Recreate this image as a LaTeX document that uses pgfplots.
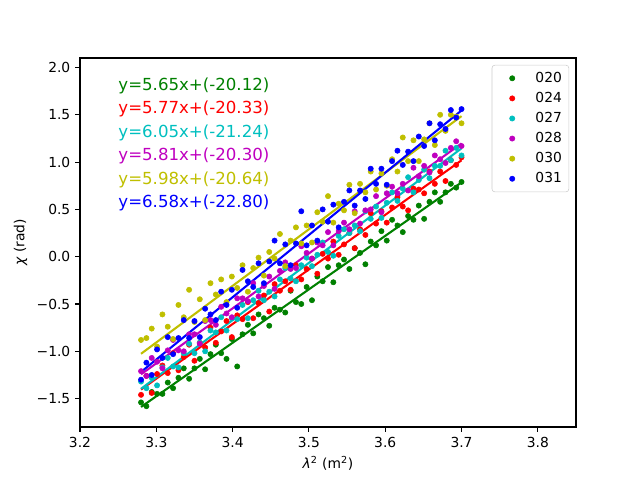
\documentclass[border=0pt]{standalone}
\usepackage{pgfplots}
\usepackage{pgfplotstable}
\usepackage{fontspec}
\setmainfont{DejaVu Sans}
\pgfplotsset{compat=1.18}
\definecolor{mg}{rgb}{0,0.5,0}
\definecolor{mr}{rgb}{1,0,0}
\definecolor{mc}{rgb}{0,0.75,0.75}
\definecolor{mm}{rgb}{0.75,0,0.75}
\definecolor{my}{rgb}{0.75,0.75,0}
\definecolor{mb}{rgb}{0,0,1}
\pgfplotstableread{
x g r c m y b
3.280 -1.54 -1.46 -1.32 -1.21 -0.88 -1.30
3.287 -1.58 -1.26 -1.39 -1.26 -0.86 -1.12
3.294 -1.43 -1.44 -1.28 -1.07 -0.76 -1.25
3.301 -1.45 -1.24 -1.36 -1.11 -0.95 -0.98
3.308 -1.45 -1.15 -1.17 -1.18 -0.61 -1.07
3.315 -1.33 -1.23 -1.07 -0.99 -0.74 -0.85
3.322 -1.39 -1.02 -1.16 -0.88 -0.87 -1.03
3.329 -1.28 -1.20 -1.17 -0.99 -0.51 -0.86
3.336 -1.18 -1.06 -1.02 -1.00 -0.64 -0.67
3.343 -1.29 -0.93 -0.92 -0.82 -0.35 -0.86
3.350 -1.18 -1.10 -1.02 -0.82 -0.69 -0.68
3.357 -1.08 -0.91 -0.91 -0.92 -0.45 -0.85
3.364 -1.19 -0.96 -1.00 -0.68 -0.67 -0.55
3.371 -1.03 -0.75 -0.78 -0.67 -0.28 -0.61
3.378 -0.93 -0.91 -0.80 -0.72 -0.40 -0.67
3.385 -1.02 -0.79 -0.64 -0.53 -0.24 -0.37
3.392 -1.08 -0.68 -0.78 -0.60 -0.48 -0.51
3.399 -0.87 -0.85 -0.65 -0.64 -0.21 -0.35
3.406 -1.16 -0.62 -0.66 -0.44 -0.33 -0.54
3.413 -0.82 -0.66 -0.51 -0.44 -0.09 -0.14
3.420 -0.72 -0.48 -0.65 -0.47 -0.37 -0.26
3.427 -0.81 -0.65 -0.46 -0.28 -0.12 -0.32
3.434 -0.61 -0.49 -0.36 -0.42 -0.01 -0.07
3.441 -0.65 -0.41 -0.46 -0.31 -0.20 -0.28
3.448 -0.73 -0.58 -0.37 -0.21 0.05 -0.05
3.455 -0.54 -0.29 -0.42 -0.34 -0.02 0.17
3.462 -0.56 -0.36 -0.24 -0.15 0.24 -0.07
3.469 -0.59 -0.26 -0.12 -0.06 -0.10 0.13
3.476 -0.36 -0.35 -0.23 -0.13 0.17 -0.09
3.483 -0.48 -0.09 -0.26 -0.12 0.31 0.14
3.490 -0.50 -0.24 -0.09 0.11 0.14 0.48
3.497 -0.32 -0.13 -0.01 0.04 0.33 0.12
3.504 -0.46 -0.02 -0.10 -0.02 0.15 0.33
3.511 -0.21 -0.18 0.02 0.15 0.47 0.17
3.518 -0.26 0.03 0.15 0.12 0.37 0.50
3.525 -0.11 -0.02 0.05 0.26 0.64 0.37
3.532 -0.27 0.16 0.01 0.12 0.36 0.55
3.539 -0.09 0.02 0.22 0.27 0.56 0.31
3.546 -0.03 0.13 0.29 0.36 0.49 0.58
3.553 -0.13 0.25 0.25 0.29 0.76 0.70
3.560 0.09 0.09 0.33 0.48 0.46 0.54
3.567 0.04 0.29 0.27 0.35 0.77 0.70
3.574 -0.08 0.23 0.48 0.49 0.68 0.61
3.581 0.16 0.46 0.40 0.50 0.90 0.93
3.588 0.12 0.35 0.53 0.64 0.71 0.77
3.595 0.27 0.48 0.41 0.47 0.88 0.93
3.602 0.17 0.36 0.57 0.67 0.75 0.76
3.609 0.39 0.52 0.68 0.74 1.03 1.01
3.616 0.33 0.63 0.59 0.67 0.90 1.12
3.623 0.26 0.53 0.72 0.77 1.26 0.97
3.630 0.43 0.49 0.84 0.70 1.01 1.11
3.637 0.39 0.72 0.68 0.94 1.23 1.01
3.644 0.54 0.71 0.81 0.85 1.01 1.27
3.651 0.40 0.67 0.92 0.96 1.24 1.17
3.658 0.58 0.90 0.83 0.89 1.41 1.41
3.665 0.68 0.77 0.96 1.07 1.18 1.23
3.672 0.58 0.90 0.96 1.03 1.50 1.40
3.679 0.68 0.80 1.12 0.99 1.33 1.35
3.686 0.77 1.02 1.02 1.15 1.50 1.55
3.693 0.73 0.97 1.15 1.22 1.48 1.47
3.700 0.79 1.05 1.07 1.17 1.41 1.56
}\datatable
\begin{document}
\begin{tikzpicture}
\begin{axis}[
  scale only axis,
  width=4.96in, height=3.69in,
  xmin=3.2, xmax=3.85, ymin=-1.8, ymax=2.1,
  xtick={3.2,3.3,3.4,3.5,3.6,3.7,3.8},
  xticklabels={3.2,3.3,3.4,3.5,3.6,3.7,3.8},
  ytick={-1.5,-1,-0.5,0,0.5,1,1.5,2},
  yticklabels={−1.5,−1.0,−0.5,0.0,0.5,1.0,1.5,2.0},
  tick align=outside, tick pos=left,
  major tick length=3.5pt,
  every tick/.style={line width=0.8pt, black},
  axis line style={line width=0.8pt},
  ticklabel style={font=\fontsize{10}{12}\selectfont},
  /pgf/number format/assume math mode=true,
  xlabel={\textit{λ}\textsuperscript{2} (m\textsuperscript{2})},
  ylabel={\textit{χ} (rad)},
  label style={font=\fontsize{10}{12}\selectfont},
  legend style={at={(1,1)}, anchor=north east, xshift=-5pt, yshift=-5pt,
    draw=black!20, rounded corners=2pt, fill=white,
    font=\fontsize{10}{12}\selectfont, row sep=1.6pt, inner sep=3pt},
  legend cell align=left,
  legend image code/.code={%
    \path (0pt,0pt) (26pt,0pt);
    \draw[#1, only marks] plot coordinates {(11.4pt,0pt)};},
]
\addplot[only marks, mark=*, mark size=1.9pt, color=mg] table[x=x,y=g] {\datatable};
\addlegendentry{020}
\addplot[mg, line width=1.5pt, forget plot] coordinates {(3.28,-1.588) (3.70,0.785)};
\addplot[only marks, mark=*, mark size=1.9pt, color=mr] table[x=x,y=r] {\datatable};
\addlegendentry{024}
\addplot[mr, line width=1.5pt, forget plot] coordinates {(3.28,-1.404) (3.70,1.019)};
\addplot[only marks, mark=*, mark size=1.9pt, color=mc] table[x=x,y=c] {\datatable};
\addlegendentry{027}
\addplot[mc, line width=1.5pt, forget plot] coordinates {(3.28,-1.396) (3.70,1.145)};
\addplot[only marks, mark=*, mark size=1.9pt, color=mm] table[x=x,y=m] {\datatable};
\addlegendentry{028}
\addplot[mm, line width=1.5pt, forget plot] coordinates {(3.28,-1.243) (3.70,1.197)};
\addplot[only marks, mark=*, mark size=1.9pt, color=my] table[x=x,y=y] {\datatable};
\addlegendentry{030}
\addplot[my, line width=1.5pt, forget plot] coordinates {(3.28,-1.026) (3.70,1.486)};
\addplot[only marks, mark=*, mark size=1.9pt, color=mb] table[x=x,y=b] {\datatable};
\addlegendentry{031}
\addplot[mb, line width=1.5pt, forget plot] coordinates {(3.28,-1.218) (3.70,1.546)};
\begin{scope}[every node/.style={anchor=west, inner sep=0pt, font=\fontsize{12}{14}\selectfont}]
\node[text=mg] at (axis cs:3.25,1.805) {y=5.65x+(-20.12)};
\node[text=mr] at (axis cs:3.25,1.56) {y=5.77x+(-20.33)};
\node[text=mc] at (axis cs:3.25,1.31) {y=6.05x+(-21.24)};
\node[text=mm] at (axis cs:3.25,1.065) {y=5.81x+(-20.30)};
\node[text=my] at (axis cs:3.25,0.815) {y=5.98x+(-20.64)};
\node[text=mb] at (axis cs:3.25,0.565) {y=6.58x+(-22.80)};
\end{scope}
\end{axis}
\path (-0.8in,-0.53in) rectangle (5.6in,4.27in);
\end{tikzpicture}
\end{document}
